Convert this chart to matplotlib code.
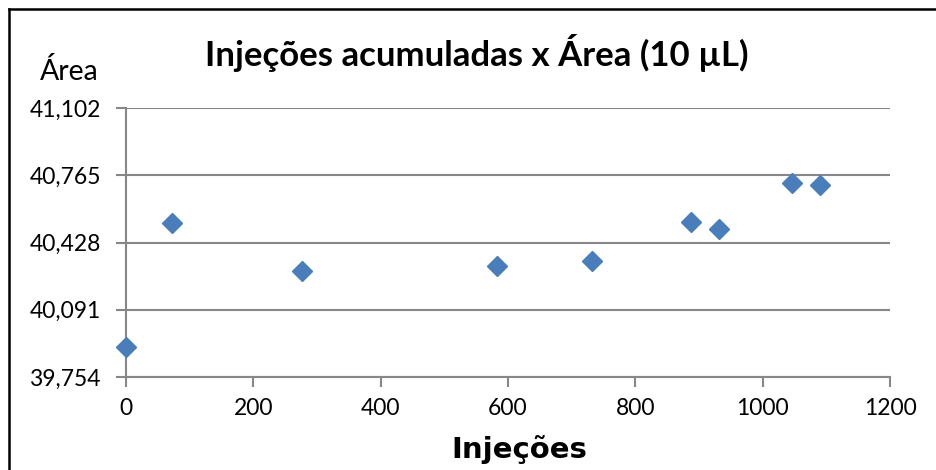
import matplotlib
matplotlib.use("Agg")
import matplotlib.pyplot as plt
from matplotlib.lines import Line2D

# injeções acumuladas vs área do pico
injecoes = [0, 72, 277, 582, 732, 887, 931, 1046, 1090]
area = [39.906, 40.524, 40.285, 40.310, 40.335, 40.531, 40.496, 40.726, 40.716]

y_ticks = [39.754, 40.091, 40.428, 40.765, 41.102]
y_labels = ["39,754", "40,091", "40,428", "40,765", "41,102"]
x_ticks = [0, 200, 400, 600, 800, 1000, 1200]

W, H = 936, 470
fig = plt.figure(figsize=(W / 100, H / 100), dpi=100)
ax = fig.add_axes([126 / W, (H - 377) / H, (890 - 126) / W, (377 - 108) / H])

grid_color = "#878787"
ax.plot(injecoes, area, linestyle="none", marker="D", markersize=10,
        color="#4A7EBB", markeredgecolor="#4A7EBB", clip_on=False, zorder=3)

ax.set_xlim(0, 1200)
ax.set_ylim(y_ticks[0], y_ticks[-1])
ax.set_xticks(x_ticks)
ax.set_yticks(y_ticks)
ax.set_yticklabels(y_labels)

ax.grid(axis="y", color=grid_color, linewidth=1.5)
ax.set_axisbelow(True)
for side in ["top", "right"]:
    ax.spines[side].set_visible(False)
for side in ["left", "bottom"]:
    ax.spines[side].set_color(grid_color)
    ax.spines[side].set_linewidth(1.5)

ax.tick_params(axis="both", direction="out", length=7, width=1.5,
               color=grid_color, labelsize=16.5, labelcolor="black")
ax.tick_params(axis="y", pad=11)
ax.tick_params(axis="x", pad=8)
for lbl in ax.get_xticklabels() + ax.get_yticklabels():
    lbl.set_family("Lato")

fig.text(477 / W, 1 - 53 / H, "Injeções acumuladas x Área (10 µL)",
         ha="center", va="center", fontsize=25, fontweight="bold", family="Lato")
fig.text(69 / W, 1 - 72 / H, "Área", ha="center", va="center",
         fontsize=20.5, family="Lato")
fig.text(519 / W, 1 - 449 / H, "Injeções", ha="center", va="center",
         fontsize=21, fontweight="bold", family="DejaVu Sans")

# moldura do gráfico (só topo e esquerda aparecem)
fig.add_artist(Line2D([9 / W, 1], [1 - 9 / H, 1 - 9 / H], color="black", linewidth=1.8))
fig.add_artist(Line2D([9 / W, 9 / W], [0, 1 - 9 / H], color="black", linewidth=1.8))

fig.savefig("out.png", dpi=100)
